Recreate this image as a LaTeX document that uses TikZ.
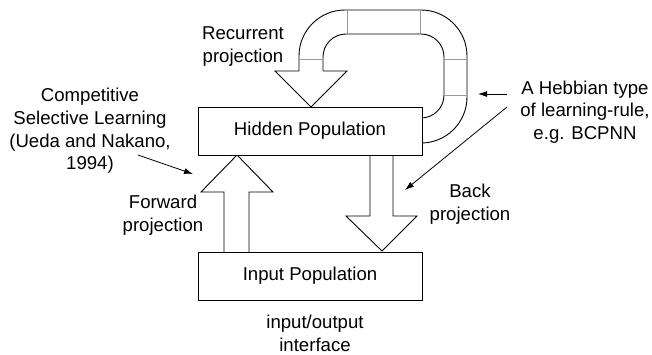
\documentclass[tikz,border=0pt]{standalone}
\usepackage{fontspec}
\setmainfont{Liberation Sans}
\usetikzlibrary{arrows.meta}
\begin{document}
\begin{tikzpicture}[x=1pt,y=-1pt,line width=0.9pt,
  txt/.style={inner sep=0pt,align=center,font=\fontsize{18.6}{22.7}\selectfont},
  popbox/.style={draw,fill=white,minimum width=224pt,minimum height=48pt,inner sep=0pt,font=\fontsize{18.6}{22.7}\selectfont},
  divider/.style={draw=black!40},
  pointer/.style={-{Latex[length=9pt,width=6pt]},line width=0.8pt}]
\useasboundingbox (0,0) rectangle (652,354);
% recurrent loop
\draw[rounded corners=46pt] (299,71) -- (299,10) -- (467,10) -- (467,143) -- (416,143);
\draw[rounded corners=23pt] (323,71) -- (323,34) -- (444,34) -- (444,118) -- (416,118);
\draw (299,71) -- (275,71) -- (311,107) -- (347,71) -- (323,71);
\path[divider] (299,59) -- (323,59);
\path[divider] (347,10) -- (347,34);
\path[divider] (420,10) -- (420,34);
\path[divider] (444,59) -- (467,59);
\path[divider] (444,95) -- (467,95);
% forward arrow
\draw (224,252) -- (224,192) -- (201,192) -- (237,155) -- (273,192) -- (249,192) -- (249,252);
% back arrow
\draw (370,155) -- (370,216) -- (346,216) -- (382,251) -- (417,216) -- (393,216) -- (393,155);
% boxes
\node[popbox] (hidden) at (310,131) {Hidden Population};
\node[popbox] (input) at (310,276) {Input Population};
% labels
\node[txt] (rec) at (243,46.5) {Recurrent\\projection};
\node[txt] (comp) at (90,131) {Competitive\\Selective Learning\\(Ueda and Nakano,\\1994)};
\node[txt] (fwd) at (163,215) {Forward\\projection};
\node[txt] (heb) at (585,112) {A Hebbian type\\of learning-rule,\\e.g. BCPNN};
\node[txt] (back) at (470,204) {Back\\projection};
\node[txt] (io) at (315,333) {input/output\\interface};
% pointers
\coordinate (c1) at (138,155);
\coordinate (c1e) at (193,174);
\coordinate (h1) at (507,94);
\coordinate (h1e) at (478,94);
\coordinate (h2) at (507,107);
\coordinate (h2e) at (405,190);
\draw[pointer] (c1) -- (c1e);
\draw[pointer] (h1) -- (h1e);
\draw[pointer] (h2) -- (h2e);
\end{tikzpicture}
\end{document}
